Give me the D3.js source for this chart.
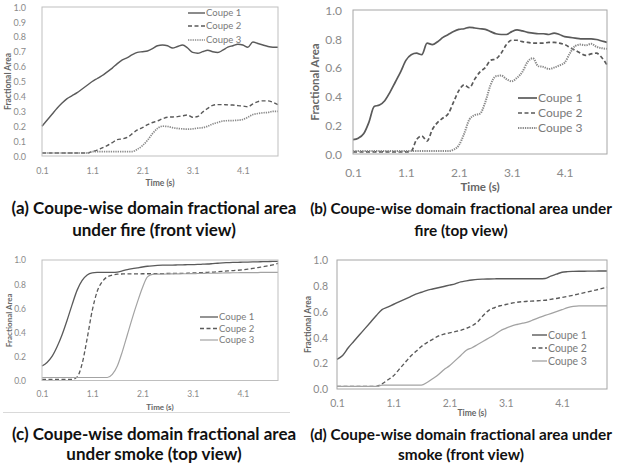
<!DOCTYPE html>
<html><head><meta charset="utf-8">
<script src="https://cdn.jsdelivr.net/npm/d3@7"></script>
<style>body{margin:0;background:#fff} svg{display:block}</style>
</head><body>
<svg id="chart" width="619" height="465"></svg>
<script>
// ---------- DATA ----------
const timesA = [0.1,0.2,0.3,0.4,0.5,0.6,0.7,0.8,0.9,1.0,1.1,1.2,1.3,1.4,1.5,1.6,1.7,1.8,1.9,2.0,2.1,2.2,2.3,2.4,2.5,2.6,2.7,2.8,2.9,3.0,3.1,3.2,3.3,3.4,3.5,3.6,3.7,3.8,3.9,4.0,4.1,4.2,4.3,4.4,4.5,4.6,4.7,4.8];
const timesB = [0.1,0.2,0.3,0.4,0.5,0.6,0.7,0.8,0.9,1.0,1.1,1.2,1.3,1.4,1.5,1.6,1.7,1.8,1.9,2.0,2.1,2.2,2.3,2.4,2.5,2.6,2.7,2.8,2.9,3.0,3.1,3.2,3.3,3.4,3.5,3.6,3.7,3.8,3.9,4.0,4.1,4.2,4.3,4.4,4.5,4.6,4.7,4.8,4.9];
const seriesNames = ["Coupe 1","Coupe 2","Coupe 3"];
const xTickValues = [0.1,1.1,2.1,3.1,4.1];
const yTicksFine = [0.0,0.1,0.2,0.3,0.4,0.5,0.6,0.7,0.8,0.9,1.0];
const yTicksCoarse = [0.0,0.2,0.4,0.6,0.8,1.0];
const yTitle = "Fractional Area";
const xTitle = "Time (s)";

// (a) fire, front view
const fireFront1 = [0.20,0.24,0.28,0.32,0.355,0.385,0.405,0.425,0.45,0.475, 0.50,0.52,0.54,0.565,0.59,0.62,0.645,0.66,0.68,0.695, 0.70,0.705,0.72,0.74,0.745,0.74,0.725,0.735,0.745,0.725, 0.695,0.69,0.70,0.71,0.70,0.695,0.71,0.73,0.74,0.75, 0.745,0.73,0.765,0.755,0.745,0.735,0.73,0.73];
const fireFront2 = [0.02,0.02,0.02,0.02,0.02,0.02,0.02,0.02,0.02,0.02, 0.03,0.04,0.055,0.07,0.09,0.11,0.115,0.125,0.15,0.175, 0.19,0.21,0.225,0.235,0.25,0.26,0.262,0.264,0.27,0.275, 0.26,0.265,0.295,0.32,0.34,0.345,0.345,0.343,0.342,0.338, 0.335,0.33,0.35,0.365,0.37,0.37,0.36,0.345];
const fireFront3 = [0.02,0.02,0.02,0.02,0.02,0.02,0.02,0.02,0.02,0.02, 0.03,0.03,0.03,0.03,0.03,0.03,0.03,0.03,0.03,0.045, 0.07,0.105,0.15,0.185,0.20,0.198,0.19,0.185,0.182,0.18, 0.182,0.187,0.19,0.20,0.215,0.225,0.235,0.237,0.238,0.24, 0.245,0.26,0.278,0.285,0.29,0.292,0.30,0.30];

// (b) fire, top view
const fireTop1 = [0.10,0.11,0.14,0.22,0.33,0.34,0.37,0.43,0.50,0.57, 0.65,0.69,0.70,0.69,0.77,0.76,0.78,0.81,0.83,0.85, 0.865,0.87,0.88,0.875,0.87,0.865,0.85,0.835,0.83,0.83, 0.85,0.862,0.855,0.845,0.84,0.835,0.835,0.83,0.84,0.83, 0.815,0.81,0.805,0.80,0.80,0.80,0.795,0.785,0.775];
const fireTop2 = [0.015,0.015,0.015,0.015,0.015,0.015,0.015,0.015,0.015,0.015, 0.015,0.02,0.10,0.125,0.09,0.17,0.22,0.25,0.28,0.36, 0.44,0.48,0.46,0.52,0.57,0.60,0.65,0.66,0.70,0.76, 0.79,0.79,0.78,0.775,0.77,0.77,0.77,0.775,0.775,0.77, 0.76,0.74,0.72,0.70,0.685,0.695,0.70,0.67,0.62];
const fireTop3 = [0.02,0.02,0.02,0.02,0.02,0.02,0.02,0.02,0.02,0.02, 0.02,0.02,0.02,0.02,0.02,0.02,0.02,0.02,0.02,0.03, 0.06,0.14,0.24,0.27,0.28,0.36,0.48,0.54,0.545,0.52, 0.505,0.53,0.57,0.64,0.665,0.61,0.605,0.59,0.60,0.615, 0.635,0.70,0.75,0.76,0.755,0.765,0.745,0.735,0.73];

// (c) smoke, top view
const smokeTop1 = [0.12,0.15,0.20,0.28,0.38,0.50,0.63,0.75,0.83,0.875, 0.893,0.897,0.898,0.898,0.898,0.90,0.91,0.92,0.928,0.935, 0.942,0.948,0.952,0.955,0.957,0.958,0.958,0.959,0.96,0.961, 0.962,0.963,0.965,0.967,0.97,0.973,0.976,0.978,0.98,0.981, 0.982,0.983,0.984,0.985,0.986,0.987,0.988,0.988];
const smokeTop2 = [0.01,0.01,0.01,0.01,0.01,0.01,0.01,0.03,0.14,0.35, 0.58,0.74,0.82,0.86,0.875,0.882,0.884,0.885,0.885,0.885, 0.886,0.886,0.886,0.887,0.887,0.888,0.888,0.889,0.889,0.89, 0.892,0.894,0.896,0.898,0.90,0.903,0.906,0.909,0.912,0.915, 0.919,0.924,0.93,0.937,0.944,0.951,0.96,0.972];
const smokeTop3 = [0.025,0.025,0.025,0.025,0.025,0.025,0.025,0.025,0.025,0.025, 0.025,0.025,0.025,0.025,0.05,0.12,0.24,0.38,0.52,0.65, 0.77,0.86,0.88,0.882,0.883,0.884,0.885,0.885,0.886,0.886, 0.887,0.888,0.889,0.89,0.89,0.891,0.892,0.893,0.894,0.894, 0.895,0.895,0.896,0.896,0.897,0.897,0.898,0.898];

// (d) smoke, front view
const smokeFront1 = [0.23,0.26,0.32,0.37,0.42,0.47,0.52,0.57,0.615,0.635, 0.655,0.675,0.695,0.715,0.735,0.75,0.765,0.775,0.785,0.795, 0.805,0.815,0.83,0.838,0.845,0.85,0.852,0.853,0.854,0.855, 0.855,0.855,0.855,0.855,0.855,0.855,0.855,0.857,0.875,0.89, 0.905,0.91,0.912,0.913,0.913,0.914,0.914,0.915,0.915];
const smokeFront2 = [0.02,0.02,0.02,0.02,0.02,0.02,0.02,0.02,0.04,0.07, 0.10,0.15,0.20,0.25,0.29,0.33,0.36,0.385,0.41,0.425, 0.435,0.445,0.455,0.47,0.49,0.52,0.57,0.61,0.63,0.645, 0.655,0.665,0.672,0.677,0.68,0.682,0.685,0.688,0.695,0.702, 0.71,0.718,0.727,0.737,0.747,0.757,0.767,0.778,0.79];
const smokeFront3 = [0.02,0.02,0.02,0.02,0.02,0.02,0.02,0.02,0.03,0.03, 0.03,0.03,0.03,0.03,0.03,0.03,0.05,0.08,0.11,0.15, 0.18,0.22,0.26,0.30,0.32,0.345,0.37,0.395,0.42,0.45, 0.47,0.488,0.50,0.51,0.52,0.538,0.555,0.57,0.585,0.60, 0.615,0.63,0.64,0.645,0.645,0.645,0.645,0.645,0.645];

const captionLines = [
  ["(a) Coupe-wise domain fractional area", "under fire (front view)"],
  ["(b) Coupe-wise domain fractional area under", "fire (top view)"],
  ["(c) Coupe-wise domain fractional area", "under smoke (top view)"],
  ["(d) Coupe-wise domain fractional area under", "smoke (front view)"]
];

// ---------- LAYOUT / STYLE ----------
const FONT = "Lato, 'Open Sans', sans-serif";
const svg = d3.select("#chart");

const panels = [
  { times: timesA, data: [fireFront1, fireFront2, fireFront3], yTicks: yTicksFine,
    x0: 42, x1: 278, y0: 7, y1: 156, box: "#bfbfbf",
    tickFs: 9, yLabelRight: 26, xLabelBase: 174, titleFs: 8.5, yTitleX: 8.5, xTitleBase: 186,
    legFs: 9.5, legLine: [188, 205], legRows: [13, 26, 40], lw: 1.4, dotted: true,
    caption: 0, capCx: 154, capTarget: 292, capBase: [214, 236] },
  { times: timesB, data: [fireTop1, fireTop2, fireTop3], yTicks: yTicksCoarse,
    x0: 353, x1: 607, y0: 10, y1: 154, box: "#a6a6a6",
    tickFs: 12, yLabelRight: 342, xLabelBase: 177, titleFs: 11.5, yTitleX: 315, xTitleBase: 191,
    legFs: 12, legLine: [518, 537], legRows: [98, 113, 128], lw: 1.7, dotted: true,
    caption: 1, capCx: 461, capTarget: 302, capBase: [214, 236] },
  { times: timesA, data: [smokeTop1, smokeTop2, smokeTop3], yTicks: yTicksCoarse,
    x0: 42, x1: 278, y0: 260, y1: 380.5, box: "#bfbfbf",
    tickFs: 8.5, yLabelRight: 26, xLabelBase: 397, titleFs: 8, yTitleX: 9.5, xTitleBase: 410,
    legFs: 9.5, legLine: [200, 218], legRows: [317, 328.5, 340], lw: 1.3, dotted: false,
    caption: 2, capCx: 154, capTarget: 292, capBase: [440, 460] },
  { times: timesB, data: [smokeFront1, smokeFront2, smokeFront3], yTicks: yTicksCoarse,
    x0: 337, x1: 607, y0: 260, y1: 389, box: "#a6a6a6",
    tickFs: 10.5, yLabelRight: 328, xLabelBase: 407, titleFs: 8.5, yTitleX: 308.5, xTitleBase: 416,
    legFs: 10.5, legLine: [532, 547], legRows: [335, 348, 361], lw: 1.4, dotted: false,
    caption: 3, capCx: 461, capTarget: 302, capBase: [440, 460] }
];

function seriesStyle(i, p) {
  if (i === 0) return { stroke: "#5a5a5a", dash: null, w: p.lw };
  if (i === 1) return { stroke: "#5a5a5a", dash: "4,2.5", w: p.lw };
  return p.dotted ? { stroke: "#8a8a8a", dash: "1.3,1", w: p.lw + 0.3 }
                  : { stroke: "#a3a3a3", dash: null, w: p.lw - 0.1 };
}

// faint chart-area divider under panel (c)
svg.append("line").attr("x1", 3).attr("x2", 290).attr("y1", 412.5).attr("y2", 412.5)
  .attr("stroke", "#d9d9d9").attr("stroke-width", 1);

panels.forEach(p => {
  const xDom = [p.times[0], p.times[p.times.length - 1]];
  const x = d3.scaleLinear().domain(xDom).range([p.x0, p.x1]);
  const y = d3.scaleLinear().domain([0, 1]).range([p.y1, p.y0]);
  const g = svg.append("g");

  // series
  const line = d3.line().x(d => x(d[0])).y(d => y(d[1])).curve(d3.curveMonotoneX);
  p.data.forEach((vals, i) => {
    const st = seriesStyle(i, p);
    const pts = p.times.map((t, k) => [t, vals[k]]);
    g.append("path").attr("d", line(pts)).attr("fill", "none")
      .attr("stroke", st.stroke).attr("stroke-width", st.w)
      .attr("stroke-dasharray", st.dash).attr("stroke-linejoin", "round");
  });

  // plot box
  g.append("rect").attr("x", p.x0).attr("y", p.y0)
    .attr("width", p.x1 - p.x0).attr("height", p.y1 - p.y0)
    .attr("fill", "none").attr("stroke", p.box).attr("stroke-width", 1);

  // y axis labels
  const gy = g.append("g").attr("transform", `translate(${p.yLabelRight},0)`)
    .call(d3.axisLeft(y).tickValues(p.yTicks).tickSize(0).tickPadding(0).tickFormat(d3.format(".1f")));
  gy.select(".domain").remove();
  gy.selectAll("text").attr("font-family", FONT).attr("font-size", p.tickFs)
    .attr("fill", "#8a8a8a").attr("dy", "0.35em");

  // x axis labels
  const gx = g.append("g").attr("transform", `translate(0,${p.xLabelBase})`)
    .call(d3.axisBottom(x).tickValues(xTickValues).tickSize(0).tickPadding(0).tickFormat(d3.format(".1f")));
  gx.select(".domain").remove();
  gx.selectAll("text").attr("font-family", FONT).attr("font-size", p.tickFs)
    .attr("fill", "#8a8a8a").attr("y", 0).attr("dy", 0);

  // axis titles
  g.append("text").attr("transform", `translate(${p.yTitleX},${(p.y0 + p.y1) / 2}) rotate(-90)`)
    .attr("text-anchor", "middle").attr("dy", "0.35em")
    .attr("font-family", FONT).attr("font-weight", "bold").attr("font-size", p.titleFs)
    .attr("fill", "#666").text(yTitle);
  g.append("text").attr("x", (p.x0 + p.x1) / 2).attr("y", p.xTitleBase)
    .attr("text-anchor", "middle")
    .attr("font-family", FONT).attr("font-weight", "bold").attr("font-size", p.titleFs)
    .attr("fill", "#666").text(xTitle);

  // legend
  seriesNames.forEach((name, i) => {
    const st = seriesStyle(i, p);
    const ry = p.legRows[i];
    g.append("line").attr("x1", p.legLine[0]).attr("x2", p.legLine[1]).attr("y1", ry).attr("y2", ry)
      .attr("stroke", st.stroke).attr("stroke-width", st.w).attr("stroke-dasharray", st.dash);
    g.append("text").attr("x", p.legLine[1] + 1).attr("y", ry).attr("dy", "0.35em")
      .attr("font-family", FONT).attr("font-size", p.legFs).attr("fill", "#7a7a7a").text(name);
  });

  // caption
  const lines = captionLines[p.caption];
  const t1 = svg.append("text").attr("x", p.capCx).attr("y", p.capBase[0])
    .attr("text-anchor", "middle").attr("font-family", FONT).attr("font-weight", "bold")
    .attr("font-size", 15).attr("fill", "#111").text(lines[0]);
  const w = t1.node().getComputedTextLength();
  let fs = 15 * p.capTarget / w;
  fs = Math.max(13, Math.min(17, fs));
  t1.attr("font-size", fs);
  svg.append("text").attr("x", p.capCx).attr("y", p.capBase[1])
    .attr("text-anchor", "middle").attr("font-family", FONT).attr("font-weight", "bold")
    .attr("font-size", fs).attr("fill", "#111").text(lines[1]);
});
</script>
</body></html>
